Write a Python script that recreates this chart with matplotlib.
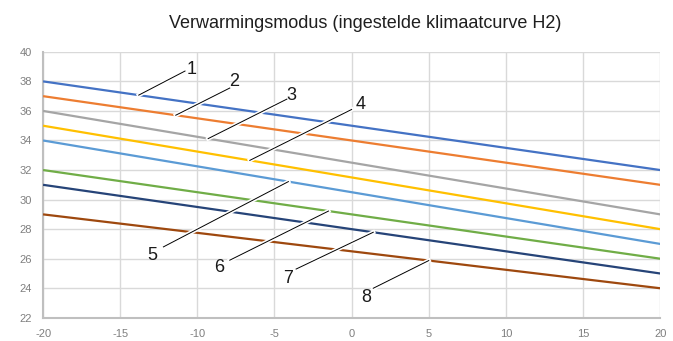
import numpy as np
import matplotlib.pyplot as plt
import matplotlib.patheffects as pe

plt.rcParams['font.family'] = ['Liberation Sans', 'DejaVu Sans']
plt.rcParams['axes.unicode_minus'] = False

# buitentemperatuur (x) tegen aanvoertemperatuur per curve
buiten = [-20, 20]
curve_labels = ["1", "2", "3", "4", "5", "6", "7", "8"]
aanvoer = [
    [38, 32],
    [37, 31],
    [36, 29],
    [35, 28],
    [34, 27],
    [32, 26],
    [31, 25],
    [29, 24],
]
kleuren = ["#4472C4", "#ED7D31", "#A5A5A5", "#FFC000",
           "#5B9BD5", "#70AD47", "#264478", "#9E480E"]

# waar de labellijntjes de curve raken, waar ze eindigen en waar het cijfer staat
label_x = [-13.8, -11.4, -9.3, -6.6, -4.1, -1.5, 1.4, 5.0]
lijn_eind = [(-10.8, 38.7), (-7.9, 37.55), (-4.2, 36.8), (0.0, 36.1),
             (-12.2, 26.8), (-7.9, 25.9), (-3.6, 25.3), (1.4, 24.0)]
tekst_pos = [(-10.4, 38.8), (-7.6, 38.0), (-3.9, 37.05), (0.6, 36.45),
             (-12.9, 26.2), (-8.6, 25.4), (-4.1, 24.65), (0.95, 23.35)]

fig = plt.figure(figsize=(6.73, 3.41), dpi=100)
ax = fig.add_axes([0.064, 0.068, 0.917, 0.780])

for vals, kleur in zip(aanvoer, kleuren):
    ax.plot(buiten, vals, color=kleur, lw=1.6, solid_capstyle='butt', zorder=3)

halo = [pe.withStroke(linewidth=3, foreground='white')]
for i, lab in enumerate(curve_labels):
    x0 = label_x[i]
    y0 = np.interp(x0, buiten, aanvoer[i])
    x1, y1 = lijn_eind[i]
    ax.plot([x0, x1], [y0, y1], color='black', lw=0.7, zorder=4, path_effects=halo)
    ax.text(tekst_pos[i][0], tekst_pos[i][1], lab, fontsize=13, ha='center', va='center',
            color='#1a1a1a', zorder=5)

ax.set_xlim(-20, 20)
ax.set_ylim(22, 40)
ax.set_xticks(np.arange(-20, 21, 5))
ax.set_yticks(np.arange(22, 41, 2))
ax.grid(True, color='#D9D9D9', lw=1.0, zorder=0)
ax.tick_params(length=0, labelsize=8, colors='#7F7F7F', pad=8)
for s in ['top', 'right']:
    ax.spines[s].set_visible(False)
for s in ['left', 'bottom']:
    ax.spines[s].set_color('#BFBFBF')
    ax.spines[s].set_linewidth(1.5)

fig.text(0.543, 0.93, "Verwarmingsmodus (ingestelde klimaatcurve H2)",
         ha='center', va='center', fontsize=13, color='#1f1f1f')

fig.savefig("out.png", dpi=100)
